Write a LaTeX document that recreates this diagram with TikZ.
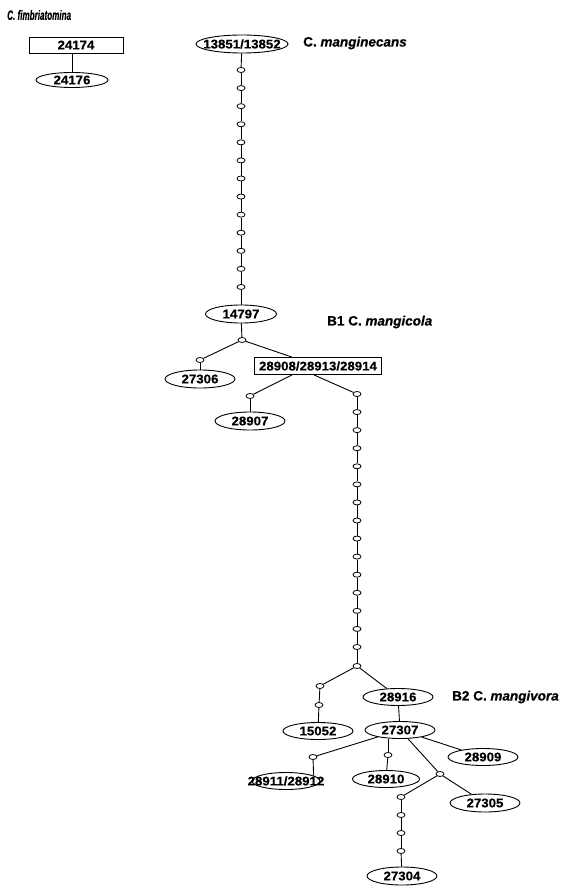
\documentclass[tikz,border=0pt]{standalone}
\usepackage{fontspec}
\usepackage{graphicx}
\setmainfont{Liberation Sans}
\newfontfamily\hapfont{Liberation Sans Bold}[FakeStretch=1.06,FakeBold=0.5]
\newfontfamily\specfont{Liberation Sans Bold}[FakeBold=0.4]
\newfontfamily\specitfont{Liberation Sans Bold Italic}[FakeBold=0.4]
\usetikzlibrary{shapes.geometric}
\begin{document}
\begin{tikzpicture}[x=1pt,y=-1pt,
  edge/.style={line width=0.9pt},
  hap/.style={ellipse,draw,line width=0.9pt,fill=white,inner sep=0pt,minimum width=70pt,minimum height=17pt,font=\hapfont\fontsize{12.5}{12.5}\selectfont},
  hapbox/.style={rectangle,draw,line width=0.9pt,fill=white,inner sep=0pt,minimum height=16pt,font=\hapfont\fontsize{12.5}{12.5}\selectfont},
  sm/.style={ellipse,draw,line width=0.8pt,fill=white,inner sep=0pt,minimum width=8pt,minimum height=5pt},
  spec/.style={anchor=west,inner sep=0pt,font=\specfont\fontsize{13.5}{13.5}\selectfont}]
\fill[white] (0,0) rectangle (574,886);
\useasboundingbox (0,0) rectangle (574,886);
% labels
\node[spec] (labfimb) at (7,15) {\scalebox{0.6}[1]{\specitfont C. fimbriatomina}};
\node[spec] (labmang) at (303,43) {C. {\specitfont manginecans}};
\node[spec] (labB1) at (327,322) {B1 C. {\specitfont mangicola}};
\node[spec] (labB2) at (452,697) {B2 C. {\specitfont mangivora}};
% C. fimbriatomina
\node[hapbox,minimum width=94pt] (n24174) at (76,45) {\makebox[0pt]{24174}};
\node[hap,minimum width=72pt,minimum height=15pt] (n24176) at (72,80) {\makebox[0pt]{24176}};
\draw[edge] (n24174.south -| n24176.north) -- (n24176.north);
% top chain
\node[hap,minimum width=92pt,minimum height=18pt] (n13851) at (242,44) {\makebox[0pt]{13851/13852}};
\foreach \i in {0,...,12} \node[sm] (ca\i) at (241,{70+\i*18.08}) {};
\node[hap,minimum width=71pt,minimum height=18pt] (n14797) at (241,314) {\makebox[0pt]{14797}};
\draw[edge] (n13851) -- (ca0);
\foreach \i [evaluate=\i as \j using int(\i+1)] in {0,...,11} \draw[edge] (ca\i) -- (ca\j);
\draw[edge] (ca12) -- (n14797);
% B1
\node[sm] (b1) at (242,340) {};
\node[sm] (s27306) at (200,360) {};
\node[hap,minimum height=18pt] (n27306) at (200,379) {\makebox[0pt]{27306}};
\node[hapbox,minimum width=127pt,minimum height=17pt] (box28908) at (318,366) {\makebox[0pt]{28908/28913/28914}};
\node[sm] (s28907) at (250,396) {};
\node[hap,minimum height=18pt] (n28907) at (250,421) {\makebox[0pt]{28907}};
\draw[edge] (n14797) -- (b1);
\draw[edge] (b1) -- (s27306);
\draw[edge] (s27306) -- (n27306);
\draw[edge] (b1) -- (box28908);
\draw[edge] ([xshift=-26pt]box28908.south) -- (s28907);
\draw[edge] (s28907) -- (n28907);
\foreach \i in {0,...,14} \node[sm] (cb\i) at (357,{394+\i*18.07}) {};
\draw[edge] ([xshift=-4pt]box28908.south) -- (cb0);
\foreach \i [evaluate=\i as \j using int(\i+1)] in {0,...,13} \draw[edge] (cb\i) -- (cb\j);
% B2
\node[sm] (b2) at (357,666) {};
\draw[edge] (cb14) -- (b2);
\node[sm] (s15052a) at (320,686) {};
\node[sm] (s15052b) at (319,705) {};
\node[hap] (n15052) at (318,731) {\makebox[0pt]{15052}};
\node[hap] (n28916) at (398,697) {\makebox[0pt]{28916}};
\node[hap] (n27307) at (400,730) {\makebox[0pt]{27307}};
\node[hap] (n28909) at (483,757) {\makebox[0pt]{28909}};
\node[sm] (s28910) at (388,755) {};
\node[hap,minimum width=67pt] (n28910) at (386,779) {\makebox[0pt]{28910}};
\node[sm] (s28911) at (313,757) {};
\node[hap,minimum width=68pt] (n28911) at (286,781) {\makebox[0pt]{28911/28912}};
\node[sm] (ssplit) at (440,774) {};
\node[hap,minimum height=18pt] (n27305) at (485,803) {\makebox[0pt]{27305}};
\foreach \i in {0,...,3} \node[sm] (cc\i) at (401,{797+\i*18}) {};
\node[hap,minimum height=18pt] (n27304) at (402,876) {\makebox[0pt]{27304}};
\draw[edge] (b2) -- (s15052a);
\draw[edge] (s15052a) -- (s15052b);
\draw[edge] (s15052b) -- (n15052);
\draw[edge] (b2) -- (n28916);
\draw[edge] (n28916) -- (n27307);
\draw[edge] (n27307) -- (n28909);
\draw[edge] (n27307) -- (s28911);
\draw[edge] (s28911) -- (n28911.11);
\draw[edge] (n27307.south -| s28910) -- (s28910);
\draw[edge] (s28910) -- (n28910);
\draw[edge] (n27307) -- (ssplit);
\draw[edge] (ssplit) -- (n27305);
\draw[edge] (ssplit) -- (cc0);
\foreach \i [evaluate=\i as \j using int(\i+1)] in {0,...,2} \draw[edge] (cc\i) -- (cc\j);
\draw[edge] (cc3) -- (n27304);
\end{tikzpicture}
\end{document}
